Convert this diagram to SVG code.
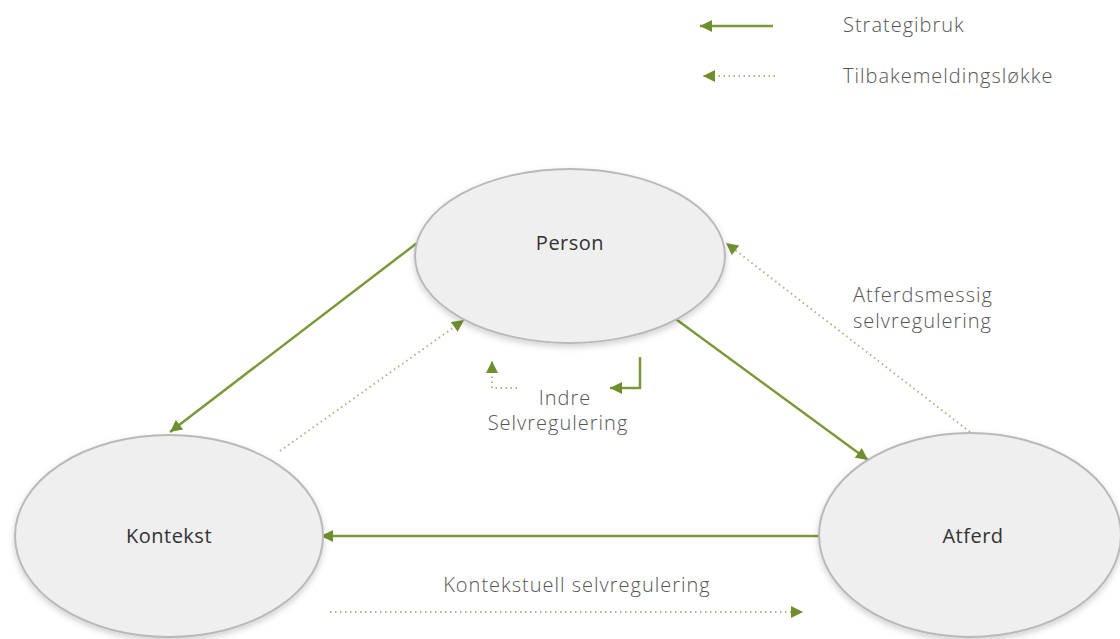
<svg xmlns="http://www.w3.org/2000/svg" width="1120" height="639" viewBox="0 0 1120 639">
<defs>
<style>
.node ellipse{fill:#efefef;stroke:#b9b9b9;stroke-width:2;filter:url(#sh)}
.lbl{font-family:"Open Sans","Liberation Sans",sans-serif;font-size:20px;fill:#555;font-weight:300;letter-spacing:1px}
.nlbl{font-family:"Open Sans","Liberation Sans",sans-serif;font-size:20px;fill:#333;letter-spacing:0.5px}
.solid{stroke:#7a9a3a;stroke-width:2.5;fill:none;marker-end:url(#ah)}
.dot{stroke:#aab68a;stroke-width:2;stroke-dasharray:1.5 3.5;fill:none;marker-end:url(#ah)}
</style>
<marker id="ah" viewBox="0 0 10 10" refX="10" refY="5" markerWidth="13" markerHeight="12" markerUnits="userSpaceOnUse" orient="auto">
<path d="M0,0 L10,5 L0,10 z" fill="#6f8f2f"/>
</marker>
<filter id="sh" x="-10%" y="-10%" width="120%" height="125%">
<feDropShadow dx="0" dy="3" stdDeviation="3" flood-color="#000" flood-opacity="0.18"/>
</filter>
</defs>
<g id="legend">
<line class="solid" x1="773" y1="26" x2="700" y2="26"/>
<line class="dot" x1="775" y1="76" x2="703" y2="76"/>
<text class="lbl" x="843" y="32">Strategibruk</text>
<text class="lbl" x="843" y="83">Tilbakemeldingsløkke</text>
</g>
<g id="connectors">
<line class="solid" x1="417" y1="243" x2="170" y2="432"/>
<line class="dot" x1="280" y1="451" x2="464" y2="320"/>
<line class="solid" x1="673" y1="317" x2="868" y2="460"/>
<line class="dot" x1="970" y1="432" x2="726" y2="243"/>
<line class="solid" x1="818" y1="536" x2="321" y2="536"/>
<line class="dot" x1="330" y1="612" x2="803" y2="612"/>
<path class="dot" d="M517,388 L492,388 L492,361"/>
<path class="solid" d="M640,357 L640,388 L610,388"/>
</g>
<g id="person" class="node">
<ellipse cx="570" cy="256" rx="155" ry="87"/>
<text class="nlbl" x="570" y="250" text-anchor="middle">Person</text>
</g>
<g id="kontekst" class="node">
<ellipse cx="169" cy="536" rx="154" ry="101"/>
<text class="nlbl" x="169" y="543" text-anchor="middle">Kontekst</text>
</g>
<g id="atferd" class="node">
<ellipse cx="970" cy="535" rx="151" ry="102"/>
<text class="nlbl" x="973" y="543" text-anchor="middle">Atferd</text>
</g>
<g id="labels">
<text class="lbl" x="565" y="405" text-anchor="middle">Indre</text>
<text class="lbl" x="558" y="430" text-anchor="middle">Selvregulering</text>
<text class="lbl" x="853" y="302">Atferdsmessig</text>
<text class="lbl" x="853" y="328">selvregulering</text>
<text class="lbl" x="577" y="592" text-anchor="middle">Kontekstuell selvregulering</text>
</g>
</svg>
